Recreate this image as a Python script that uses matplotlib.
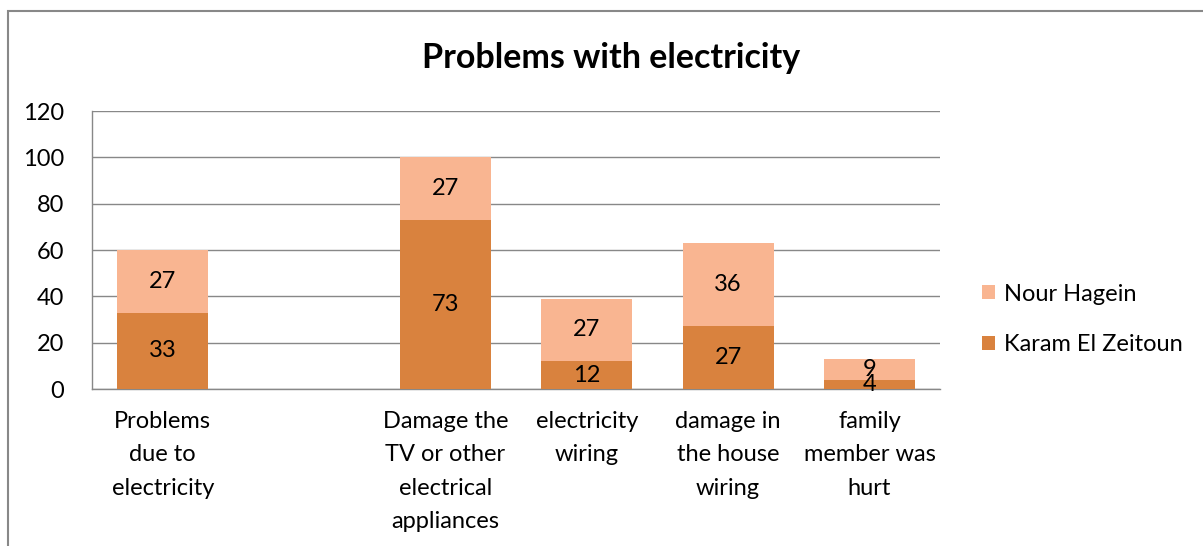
import matplotlib.pyplot as plt
import numpy as np
from matplotlib.patches import Rectangle

plt.rcParams['font.family'] = ['Lato', 'DejaVu Sans']

# Data
categories = ["Problems\ndue to\nelectricity", "",
              "Damage the\nTV or other\nelectrical\nappliances",
              "electricity\nwiring", "damage in\nthe house\nwiring",
              "family\nmember was\nhurt"]
karam = [33, 0, 73, 12, 27, 4]
nour = [27, 0, 27, 27, 36, 9]
y_ticks = [0, 20, 40, 60, 80, 100, 120]

c_karam = '#D9823E'
c_nour = '#F9B591'
fs = 17

fig = plt.figure(figsize=(12.03, 5.46), dpi=100)
ax = fig.add_axes([0.0765, 0.2875, 0.705, 0.5092])

x = np.arange(len(categories))
w = 0.645
b1 = ax.bar(x, karam, w, color=c_karam, label='Karam El Zeitoun', zorder=3)
b2 = ax.bar(x, nour, w, bottom=karam, color=c_nour, label='Nour Hagein', zorder=3)

# data labels, centred in each segment
for xi, k, n in zip(x, karam, nour):
    if k:
        ax.text(xi, k / 2, str(k), ha='center', va='center', fontsize=fs, zorder=4)
    if n:
        ax.text(xi, k + n / 2, str(n), ha='center', va='center', fontsize=fs, zorder=4)

ax.set_xlim(-0.5, len(categories) - 0.5)
ax.set_ylim(0, 120)
ax.set_yticks(y_ticks)
ax.set_yticklabels([str(t) for t in y_ticks], fontsize=fs)
ax.set_xticks(x)
ax.set_xticklabels(categories, fontsize=fs, linespacing=1.72, va='top')
ax.tick_params(axis='both', length=0)
ax.tick_params(axis='x', pad=16)
ax.tick_params(axis='y', pad=20)

ax.yaxis.grid(True, color='#888888', lw=1, zorder=0)
for s in ['top', 'right']:
    ax.spines[s].set_visible(False)
for s in ['left', 'bottom']:
    ax.spines[s].set_color('#888888')
    ax.spines[s].set_linewidth(1)

fig.text(0.508, 0.893, "Problems with electricity", ha='center', va='center',
         fontsize=24.5, fontweight='bold')

handles = [b2, b1]
leg = fig.legend(handles, ['Nour Hagein', 'Karam El Zeitoun'],
                 loc='center left', bbox_to_anchor=(0.799, 0.415),
                 frameon=False, fontsize=fs, handlelength=0.55,
                 handleheight=0.55, handletextpad=0.35, labelspacing=1.25)

# outer chart border
fig.patches.append(Rectangle((8 / 1203, -0.1), 1.2, 1 - 11 / 546 + 0.1,
                             transform=fig.transFigure, fill=False,
                             edgecolor='#888888', lw=1.5))

fig.savefig('out.png', dpi=100)
